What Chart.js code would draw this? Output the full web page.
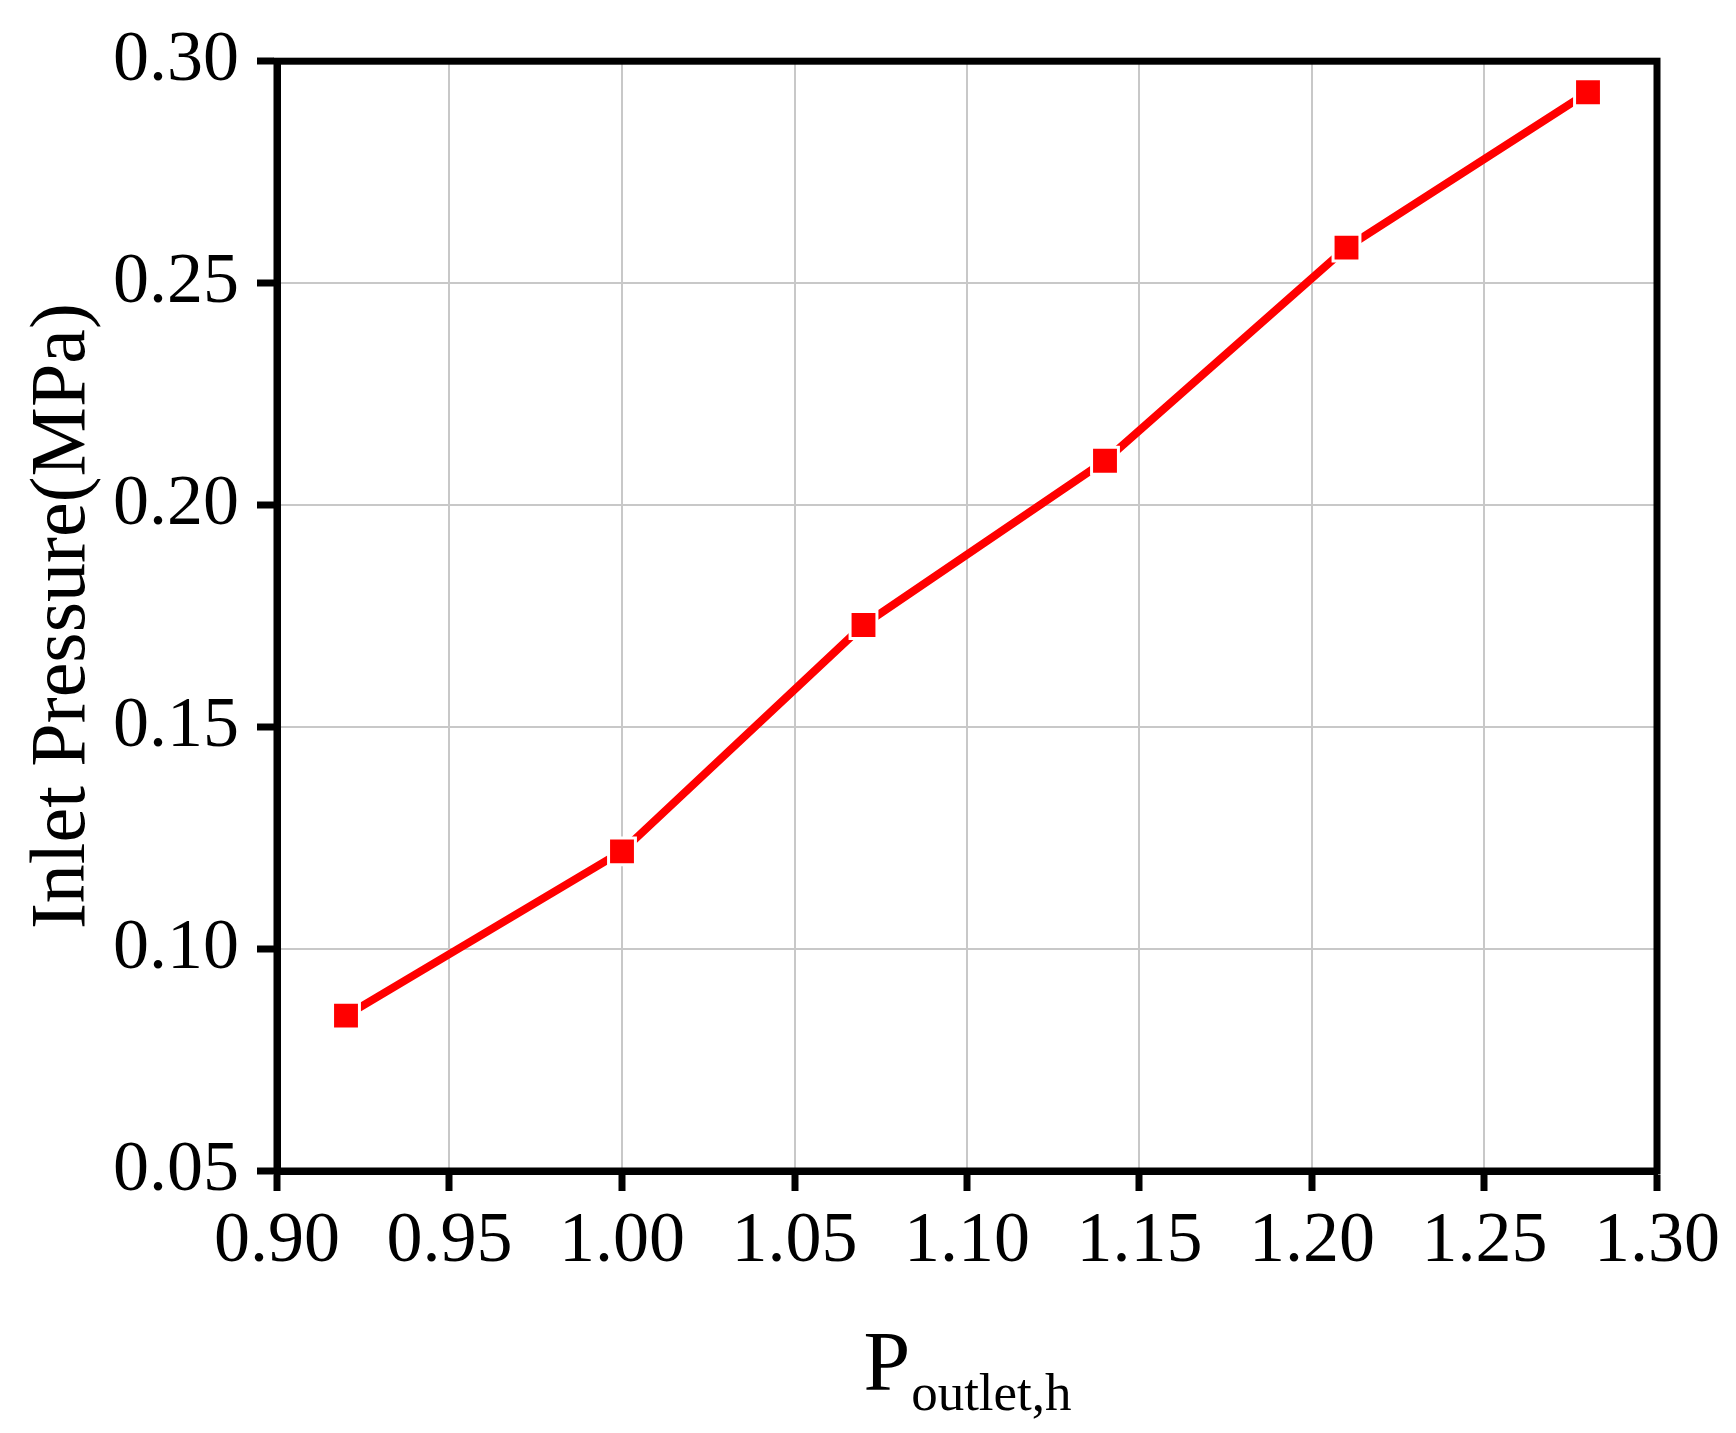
<!DOCTYPE html>
<html>
<head>
<meta charset="utf-8">
<script src="https://cdn.jsdelivr.net/npm/chart.js@4.4.1/dist/chart.umd.min.js"></script>
<style>
  html, body { margin: 0; padding: 0; background: #fff; }
  canvas { display: block; }
</style>
</head>
<body>
<canvas id="pressureChart" width="1736" height="1433"></canvas>
<script>
const outletPressure = [0.92, 1.00, 1.07, 1.14, 1.21, 1.28];
const inletPressure  = [0.085, 0.122, 0.173, 0.210, 0.258, 0.293];
const xTicks = [0.90, 0.95, 1.00, 1.05, 1.10, 1.15, 1.20, 1.25, 1.30];
const yTicks = [0.05, 0.10, 0.15, 0.20, 0.25, 0.30];

const serif = "'Liberation Serif', 'Times New Roman', serif";

// frame on top/right + the subscripted x title
const framePlugin = {
  id: "frame",
  afterDraw(chart) {
    const { ctx, chartArea: a } = chart;
    ctx.save();
    ctx.strokeStyle = "#000";
    ctx.lineWidth = 7;
    ctx.strokeRect(a.left, a.top, a.right - a.left, a.bottom - a.top);

    // P_outlet,h
    const big = "84px " + serif;
    const small = "53px " + serif;
    ctx.fillStyle = "#000";
    ctx.textBaseline = "alphabetic";
    ctx.font = big;
    const wP = ctx.measureText("P").width;
    ctx.font = small;
    const wS = ctx.measureText("outlet,h").width;
    const x0 = (a.left + a.right) / 2 - (wP + wS) / 2;
    const base = a.bottom + 219;
    ctx.font = big;
    ctx.fillText("P", x0, base);
    ctx.font = small;
    ctx.fillText("outlet,h", x0 + wP + 1, base + 20);
    ctx.restore();
  }
};

const ctx = document.getElementById("pressureChart").getContext("2d");
new Chart(ctx, {
  type: "line",
  data: {
    datasets: [
      {
        data: outletPressure.map((x, i) => ({ x: x, y: inletPressure[i] })),
        borderColor: "#ff0000",
        borderWidth: 8,
        backgroundColor: "#ff0000",
        pointStyle: "rect",
        pointRadius: 19,
        pointBorderWidth: 3,
        pointBorderColor: "#ffffff",
        pointBackgroundColor: "#ff0000",
        fill: false,
        tension: 0
      }
    ]
  },
  options: {
    responsive: false,
    animation: false,
    layout: { padding: { top: 58, right: 79, left: 0, bottom: 0 } },
    plugins: {
      legend: { display: false },
      tooltip: { enabled: false }
    },
    scales: {
      x: {
        type: "linear",
        min: 0.90,
        max: 1.30,
        afterBuildTicks: s => { s.ticks = xTicks.map(v => ({ value: v })); },
        afterFit: s => { s.height = 262; },
        grid: {
          color: "#c8c8c8",
          lineWidth: 2,
          tickLength: 20,
          tickWidth: 7,
          tickColor: "#000"
        },
        border: { display: true, color: "#000", width: 7 },
        ticks: {
          color: "#000",
          padding: 8,
          maxRotation: 0,
          font: { family: serif, size: 72 },
          callback: v => v.toFixed(2)
        }
      },
      y: {
        type: "linear",
        min: 0.05,
        max: 0.30,
        afterBuildTicks: s => { s.ticks = yTicks.map(v => ({ value: v })); },
        afterFit: s => { s.width = 277; },
        grid: {
          color: "#c8c8c8",
          lineWidth: 2,
          tickLength: 20,
          tickWidth: 7,
          tickColor: "#000"
        },
        border: { display: true, color: "#000", width: 7 },
        ticks: {
          color: "#000",
          padding: 18,
          font: { family: serif, size: 72 },
          callback: v => v.toFixed(2)
        },
        title: {
          display: true,
          text: "Inlet Pressure(MPa)",
          color: "#000",
          padding: { top: 17, bottom: 0 },
          font: { family: serif, size: 78, lineHeight: 1.2 }
        }
      }
    }
  },
  plugins: [framePlugin]
});
</script>
</body>
</html>
